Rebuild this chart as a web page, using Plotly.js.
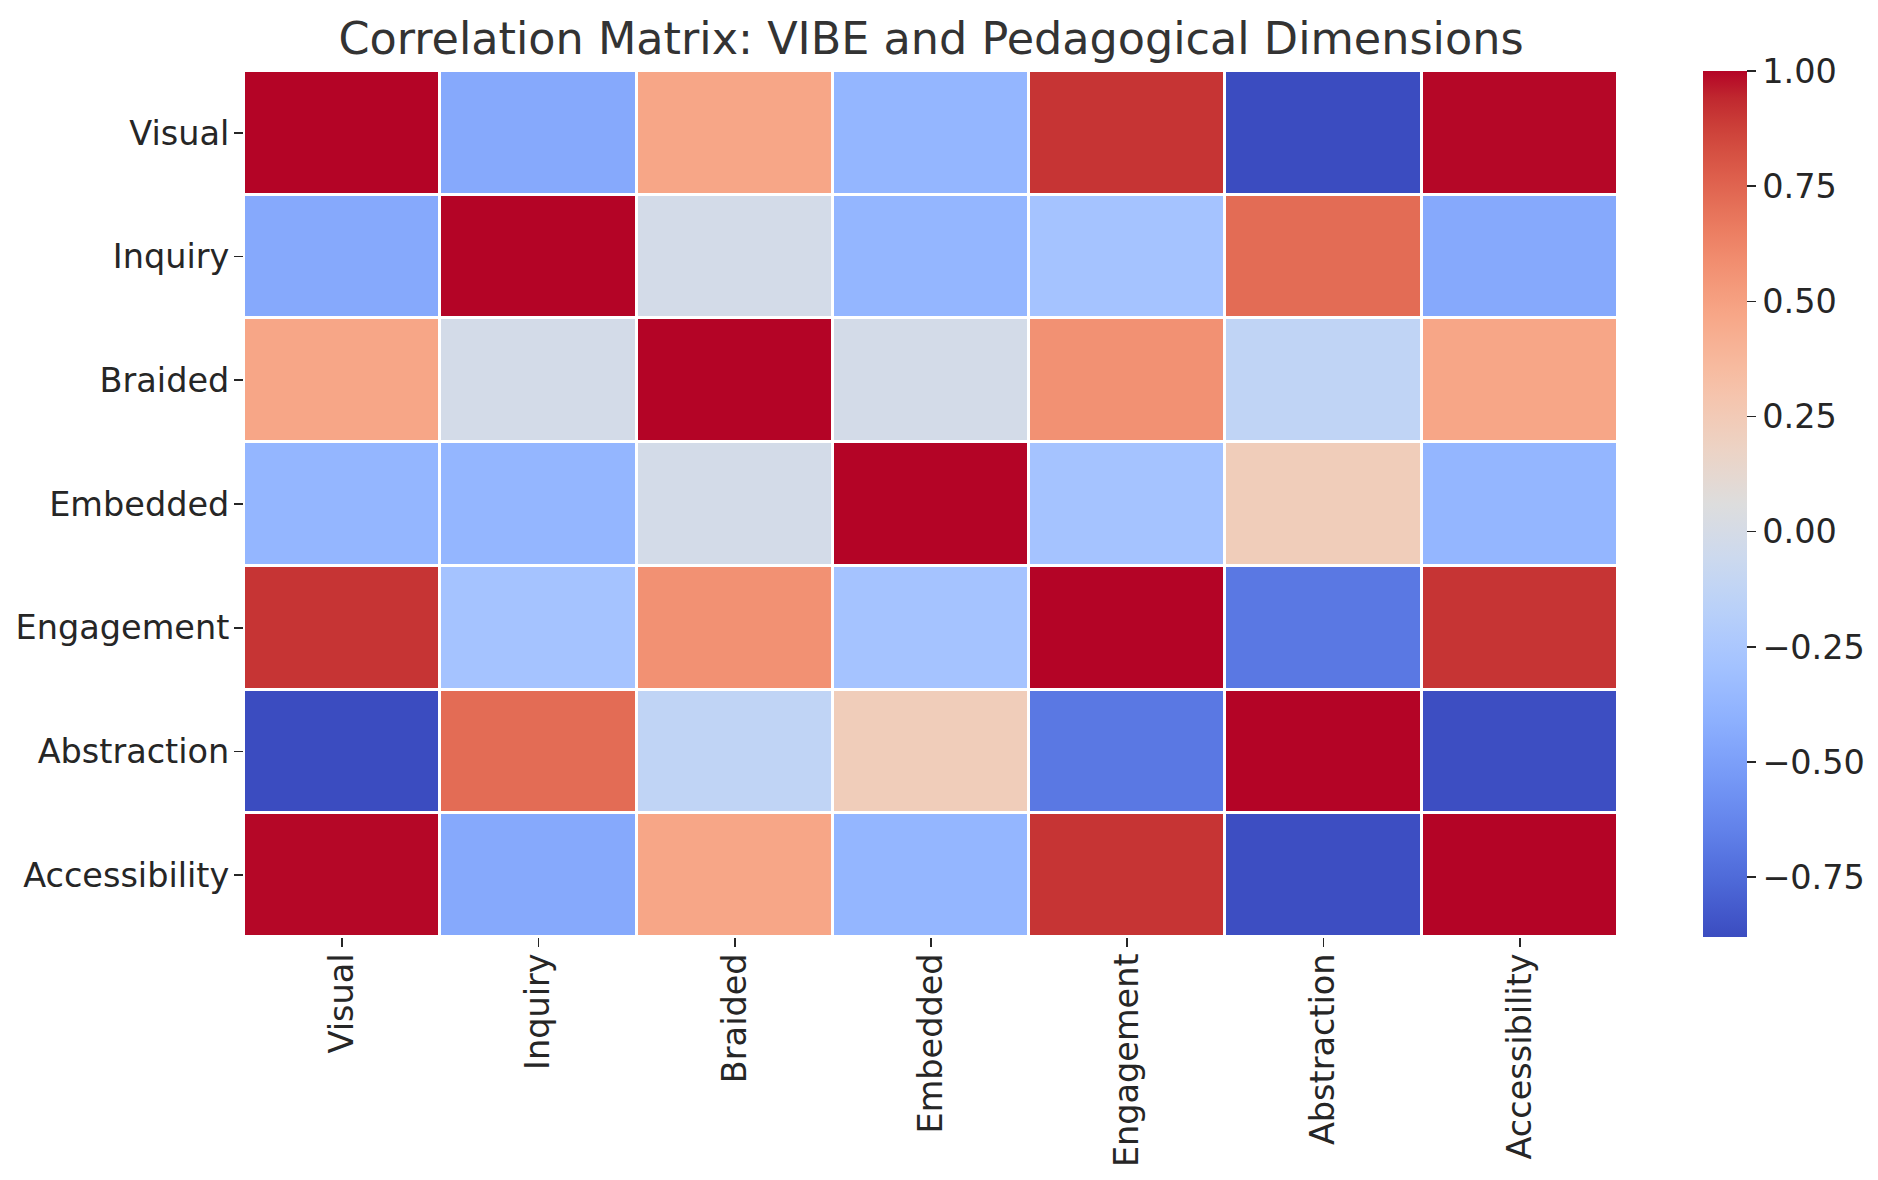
<!DOCTYPE html>
<html>
<head>
<meta charset="utf-8">
<script src="https://cdn.plot.ly/plotly-3.0.1.min.js"></script>
<style>
  html, body { margin: 0; padding: 0; background: #ffffff; }
  #chart { width: 1878px; height: 1180px; }
</style>
</head>
<body>
<div id="chart"></div>
<script>
// Dimension labels (rows top to bottom, columns left to right)
const dimensions = ["Visual", "Inquiry", "Braided", "Embedded", "Engagement", "Abstraction", "Accessibility"];

// Correlation matrix rows
const rowVisual        = [ 1.00, -0.45,  0.47, -0.37,  0.91, -0.88,  0.995];
const rowInquiry       = [-0.45,  1.00, -0.01, -0.37, -0.28,  0.72, -0.45];
const rowBraided       = [ 0.47, -0.01,  1.00, -0.01,  0.57, -0.13,  0.47];
const rowEmbedded      = [-0.37, -0.37, -0.01,  1.00, -0.28,  0.23, -0.37];
const rowEngagement    = [ 0.91, -0.28,  0.57, -0.28,  1.00, -0.69,  0.91];
const rowAbstraction   = [-0.88,  0.72, -0.13,  0.23, -0.69,  1.00, -0.87];
const rowAccessibility = [ 0.995, -0.45,  0.47, -0.37,  0.91, -0.87,  1.00];

// Colour bar ticks
const cbarTickVals = [-0.75, -0.5, -0.25, 0, 0.25, 0.5, 0.75, 1.0];
const cbarTickText = ["\u22120.75", "\u22120.50", "\u22120.25", "0.00", "0.25", "0.50", "0.75", "1.00"];

const corr = [rowVisual, rowInquiry, rowBraided, rowEmbedded, rowEngagement, rowAbstraction, rowAccessibility];
const zMin = Math.min(...corr.flat());
const zMax = Math.max(...corr.flat());

// matplotlib "coolwarm"
const coolwarmRGB = [
  [59,76,192],[68,90,204],[77,104,215],[87,117,225],[98,130,234],[108,142,241],
  [119,154,247],[130,165,251],[141,176,254],[152,185,255],[163,194,255],[174,201,253],
  [184,208,249],[194,213,244],[204,217,238],[213,219,230],[221,221,221],[229,216,209],
  [236,211,197],[241,204,185],[245,196,173],[247,187,160],[247,177,148],[247,166,135],
  [244,154,123],[241,141,111],[236,127,99],[229,112,88],[222,96,77],[213,80,66],
  [203,62,56],[192,40,47],[180,4,38]
];
const coolwarm = coolwarmRGB.map((c, i) => [i / (coolwarmRGB.length - 1), `rgb(${c[0]},${c[1]},${c[2]})`]);

const tickFont = { family: "DejaVu Sans", size: 33.5, color: "#262626" };

const trace = {
  type: "heatmap",
  x: dimensions,
  y: dimensions,
  z: corr,
  zmin: zMin,
  zmax: zMax,
  colorscale: coolwarm,
  xgap: 3,
  ygap: 3,
  hoverongaps: false,
  colorbar: {
    x: 1.0615,
    xanchor: "left",
    xref: "paper",
    y: 0.5,
    yanchor: "middle",
    len: 1,
    lenmode: "fraction",
    thickness: 44,
    thicknessmode: "pixels",
    outlinewidth: 0,
    xpad: 0,
    ypad: 0,
    ticks: "outside",
    ticklen: 9,
    tickwidth: 1.6,
    tickcolor: "#262626",
    tickvals: cbarTickVals,
    ticktext: cbarTickText,
    tickfont: tickFont
  }
};

const layout = {
  width: 1878,
  height: 1180,
  paper_bgcolor: "#ffffff",
  plot_bgcolor: "#ffffff",
  font: { family: "DejaVu Sans", color: "#262626" },
  margin: { l: 244, r: 260, t: 71, b: 243, pad: 0, autoexpand: false },
  title: {
    text: "Correlation Matrix: VIBE and Pedagogical Dimensions",
    font: { family: "DejaVu Sans", size: 44.5, color: "#333333" },
    x: 0.5, xref: "paper", xanchor: "center",
    y: 0.9542, yref: "container", yanchor: "bottom"
  },
  xaxis: {
    type: "category",
    tickangle: -90,
    ticks: "outside",
    ticklen: 9,
    tickwidth: 1.6,
    tickcolor: "#262626",
    ticklabelstandoff: -7,
    showgrid: false,
    zeroline: false,
    showline: false,
    tickfont: tickFont
  },
  yaxis: {
    type: "category",
    autorange: "reversed",
    ticks: "outside",
    ticklen: 9,
    tickwidth: 1.6,
    tickcolor: "#262626",
    ticklabelstandoff: -2,
    showgrid: false,
    zeroline: false,
    showline: false,
    tickfont: tickFont
  }
};

Plotly.newPlot("chart", [trace], layout, { displayModeBar: false, staticPlot: true });
</script>
</body>
</html>
